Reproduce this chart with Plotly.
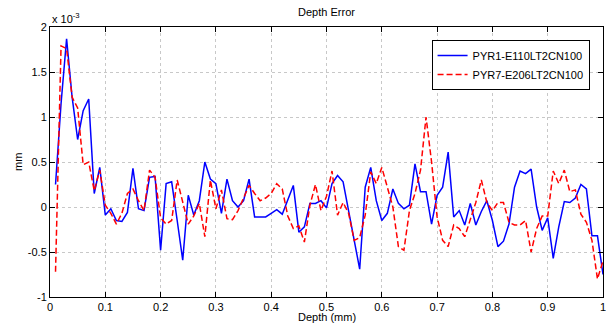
import plotly.graph_objects as go

depth = [round(0.01 * i, 2) for i in range(1, 101)]

pyr1 = [0.25, 1.15, 1.87, 1.22, 0.75, 1.07, 1.2, 0.15, 0.44, -0.09,
        -0.02, -0.15, -0.16, -0.06, 0.43, -0.02, -0.04, 0.33, 0.34, -0.48,
        0.26, 0.28, -0.15, -0.59, 0.13, -0.09, 0.07, 0.5, 0.31, 0.26,
        -0.07, 0.31, 0.07, 0.0, 0.07, 0.31, -0.11, -0.11, -0.11, -0.07,
        -0.03, -0.08, 0.08, 0.24, -0.28, -0.22, 0.04, 0.04, 0.07, -0.01,
        0.26, 0.35, 0.28, -0.04, -0.33, -0.69, 0.22, 0.44, 0.07, -0.15,
        -0.07, 0.2, 0.04, -0.02, 0.02, 0.48, 0.17, 0.17, -0.19, 0.13,
        0.22, 0.61, -0.11, -0.04, -0.2, 0.04, -0.2, -0.05, 0.07, -0.15,
        -0.44, -0.38, -0.19, 0.22, 0.4, 0.37, 0.42, 0.0, -0.26, -0.12,
        -0.57, -0.22, 0.06, 0.05, 0.1, 0.25, 0.2, -0.32, -0.32, -0.75]

pyr7 = [-0.72, 1.79, 1.76, 1.22, 1.1, 0.47, 0.5, 0.18, 0.41, 0.02,
        -0.07, -0.19, -0.07, 0.15, 0.2, 0.07, -0.04, 0.41, 0.33, -0.12,
        -0.19, -0.15, 0.3, 0.05, -0.19, -0.1, 0.04, -0.33, 0.3, -0.02,
        0.19, -0.13, -0.14, -0.04, 0.1, 0.24, 0.15, 0.07, 0.1, 0.15,
        0.26, 0.2, -0.1, -0.24, -0.21, -0.39, 0.02, 0.25, -0.04, 0.12,
        0.4, -0.09, 0.05, -0.07, -0.37, -0.34, -0.09, 0.39, 0.26, 0.44,
        0.22, 0.0, -0.44, -0.48, -0.04, 0.15, 0.41, 1.0, 0.5, -0.11,
        -0.37, -0.44, -0.2, -0.24, -0.33, -0.15, 0.05, 0.3, 0.05, -0.04,
        0.05, 0.05, -0.17, -0.2, -0.2, -0.15, -0.5, -0.24, -0.1, -0.1,
        0.4, 0.26, 0.41, 0.17, 0.19, -0.08, -0.17, -0.37, -0.8, -0.6]

x_ticks = [0, 0.1, 0.2, 0.3, 0.4, 0.5, 0.6, 0.7, 0.8, 0.9, 1]
x_tick_text = ["0", "0.1", "0.2", "0.3", "0.4", "0.5", "0.6", "0.7", "0.8", "0.9", "1"]
y_ticks = [-1, -0.5, 0, 0.5, 1, 1.5, 2]
y_tick_text = ["-1", "-0.5", "0", "0.5", "1", "1.5", "2"]

font_family = "Liberation Sans, Arial, sans-serif"
txt = dict(family=font_family, size=11, color="black")

fig = go.Figure()
fig.add_trace(go.Scatter(x=depth, y=pyr1, mode="lines", name="PYR1-E110LT2CN100",
                         line=dict(color="#0000ff", width=1.5)))
fig.add_trace(go.Scatter(x=depth, y=pyr7, mode="lines", name="PYR7-E206LT2CN100",
                         line=dict(color="#ff0000", width=1.5, dash="6px,3px")))

axis_common = dict(showline=True, linecolor="black", linewidth=1, mirror="ticks",
                   ticks="inside", ticklen=5, tickcolor="black",
                   showgrid=True, gridcolor="#c8c8c8", griddash="dot", gridwidth=1,
                   zeroline=False, tickfont=txt, automargin=False)

fig.update_xaxes(range=[0, 1], tickvals=x_ticks, ticktext=x_tick_text, **axis_common)
fig.update_yaxes(range=[-1, 2], tickvals=y_ticks, ticktext=y_tick_text, **axis_common)

# the page body has an 8px default margin, so the figure is sized to fit the window
fig.update_layout(
    width=606, height=317,
    margin=dict(l=42, r=11, t=19, b=28),
    paper_bgcolor="white", plot_bgcolor="white",
    title=dict(text="Depth Error", x=0.5, xanchor="center", xref="paper",
               y=0.987, yanchor="middle", yref="container", font=txt),
    legend=dict(x=0.69, y=0.952, xanchor="left", yanchor="top",
                bgcolor="white", bordercolor="black", borderwidth=1,
                font=txt, tracegroupgap=0),
    annotations=[
        dict(text="x 10<sup>-3</sup>", x=0, y=1, xref="paper", yref="paper",
             xanchor="left", yanchor="bottom", showarrow=False, font=txt),
        dict(text="mm", x=0, y=0.5, xref="paper", yref="paper", xanchor="center",
             yanchor="middle", xshift=-32, textangle=-90, showarrow=False, font=txt),
        dict(text="Depth (mm)", x=0.5, y=0, xref="paper", yref="paper", xanchor="center",
             yanchor="top", yshift=-12, showarrow=False, font=txt),
    ],
    showlegend=True,
)

fig.write_html("out.html")
